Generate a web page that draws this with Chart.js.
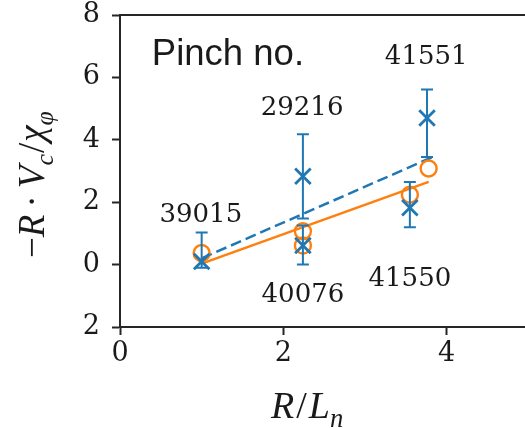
<!DOCTYPE html>
<html>
<head>
<meta charset="utf-8">
<script src="https://cdn.jsdelivr.net/npm/chart.js@4/dist/chart.umd.min.js"></script>
<style>
  html, body { margin: 0; padding: 0; background: #fff; overflow: hidden; }
  canvas { display: block; }
</style>
</head>
<body>
<canvas id="c" width="525" height="428"></canvas>
<script>
// Pinch shots
const shotLabels = ['39015', '40076', '29216', '41550', '41551'];

// Measured values (crosses with error bars)
const measX    = [1.00, 2.24, 2.24, 3.55, 3.76];
const measY    = [0.10, 0.61, 2.83, 1.82, 4.70];
const measLow  = [-0.10, 0.00, 1.48, 1.20, 3.45];
const measHigh = [1.03, 1.25, 4.18, 2.65, 5.61];

// Model values (open circles)
const modelX = [1.00, 2.24, 2.24, 3.55, 3.78];
const modelY = [0.37, 0.61, 1.07, 2.24, 3.08];

// Linear fits (end points)
const measFitX  = [1.00, 3.83];
const measFitY  = [0.20, 3.45];
const modelFitX = [1.00, 3.78];
const modelFitY = [0.03, 2.65];

// Axis ticks
const yTickValues = [-2, 0, 2, 4, 6, 8];
const yTickText   = ['2', '0', '2', '4', '6', '8'];

const BLUE = '#1f77b4';
const ORANGE = '#ff7f0e';
const AXIS = '#262626';
const TEXT = '#1a1a1a';

const pts = (xs, ys) => xs.map((x, i) => ({ x, y: ys[i] }));

// Error bars for the measured series, drawn right before its markers
const errorBars = {
  id: 'errorBars',
  beforeDatasetDraw(chart, args) {
    if (args.index !== 0) return;
    const { ctx, scales: { x, y } } = chart;
    ctx.save();
    ctx.strokeStyle = BLUE;
    ctx.lineWidth = 2;
    const cap = 6;
    measX.forEach((xv, i) => {
      const px = x.getPixelForValue(xv);
      const pl = y.getPixelForValue(measLow[i]);
      const ph = y.getPixelForValue(measHigh[i]);
      ctx.beginPath();
      ctx.moveTo(px, pl); ctx.lineTo(px, ph);
      ctx.moveTo(px - cap, pl); ctx.lineTo(px + cap, pl);
      ctx.moveTo(px - cap, ph); ctx.lineTo(px + cap, ph);
      ctx.stroke();
    });
    ctx.restore();
  }
};

// Shot number labels, in data coordinates: [text, x, y]
const shotTextPos = [
  ['39015', 0.99, 1.35],
  ['40076', 2.24, -1.19],
  ['29216', 2.23, 4.81],
  ['41550', 3.55, -0.67],
  ['41551', 3.75, 6.44]
];

function drawPieces(ctx, pieces, size) {
  let cx = 0;
  pieces.forEach(p => {
    const s = p.sub ? size * 0.7 : size;
    ctx.font = (p.it ? 'italic ' : '') + s + 'px "Liberation Serif"';
    cx += p.pre || 0;
    ctx.fillText(p.t, cx, p.sub ? size * 0.24 : 0);
    cx += ctx.measureText(p.t).width + (p.post || 0);
  });
}

const annotations = {
  id: 'annotations',
  afterDraw(chart) {
    const { ctx, scales: { x, y } } = chart;
    ctx.save();
    ctx.fillStyle = TEXT;
    ctx.textBaseline = 'alphabetic';

    ctx.textAlign = 'center';
    ctx.font = '26px "DejaVu Serif"';
    shotTextPos.forEach(([t, xv, yv]) => {
      ctx.fillText(t, x.getPixelForValue(xv), y.getPixelForValue(yv));
    });

    ctx.textAlign = 'left';
    ctx.font = '36.5px "Liberation Sans"';
    ctx.fillText('Pinch no.', x.getPixelForValue(0.39), y.getPixelForValue(6.41));

    // x axis title
    ctx.save();
    ctx.translate(271, 418);
    drawPieces(ctx, [
      { t: 'R', it: true, post: 2 }, { t: '/', post: 2 }, { t: 'L', it: true }, { t: 'n', it: true, sub: true }
    ], 38);
    ctx.restore();

    // y axis title
    ctx.save();
    ctx.translate(44, 258);
    ctx.rotate(-Math.PI / 2);
    drawPieces(ctx, [
      { t: '\u2212' }, { t: 'R', it: true }, { t: '\u00B7', pre: 7, post: 7 }, { t: 'V', it: true },
      { t: 'c', it: true, sub: true }, { t: '/', pre: 1, post: 1 }, { t: '\u03C7', it: true },
      { t: '\u03C6', it: true, sub: true }
    ], 37);
    ctx.restore();

    ctx.restore();
  }
};

// Keep the plot area fixed: no extra padding for edge tick labels
const noPad = (s) => { s.paddingLeft = s.paddingRight = s.paddingTop = s.paddingBottom = 0; };

new Chart(document.getElementById('c'), {
  type: 'scatter',
  data: {
    datasets: [
      {
        label: 'measured',
        data: pts(measX, measY),
        pointStyle: 'crossRot',
        pointRadius: 11,
        pointBorderWidth: 2.8,
        borderColor: BLUE,
        backgroundColor: BLUE,
        order: 0
      },
      {
        label: 'model',
        data: pts(modelX, modelY),
        pointStyle: 'circle',
        pointRadius: 8,
        pointBorderWidth: 2.4,
        borderColor: ORANGE,
        backgroundColor: 'rgba(0,0,0,0)',
        order: 1
      },
      {
        label: 'measured fit',
        data: pts(measFitX, measFitY),
        showLine: true,
        pointRadius: 0,
        borderColor: BLUE,
        borderWidth: 2.5,
        borderDash: [11, 5],
        order: 2
      },
      {
        label: 'model fit',
        data: pts(modelFitX, modelFitY),
        showLine: true,
        pointRadius: 0,
        borderColor: ORANGE,
        borderWidth: 2.5,
        order: 3
      }
    ]
  },
  options: {
    responsive: false,
    animation: false,
    events: [],
    layout: { padding: 0, autoPadding: false },
    plugins: { legend: { display: false }, tooltip: { enabled: false } },
    scales: {
      x: {
        type: 'linear',
        position: 'bottom',
        min: 0,
        max: 4.96,
        ticks: {
          stepSize: 2,
          includeBounds: false,
          color: TEXT,
          font: { family: 'DejaVu Serif', size: 27 },
          padding: 3,
          maxRotation: 0
        },
        grid: { drawOnChartArea: false, tickLength: 8, tickWidth: 2, color: AXIS },
        border: { color: AXIS, width: 2 },
        afterFit(s) { s.height = 101; noPad(s); }
      },
      xTop: {
        type: 'linear',
        position: 'top',
        min: 0,
        max: 4.96,
        ticks: { display: false, includeBounds: false },
        grid: { display: false },
        border: { display: true, color: AXIS, width: 2 },
        afterFit(s) { s.height = 15; noPad(s); }
      },
      y: {
        type: 'linear',
        min: -2,
        max: 8,
        afterBuildTicks(s) { s.ticks = yTickValues.map(v => ({ value: v })); },
        ticks: {
          color: TEXT,
          font: { family: 'DejaVu Serif', size: 27 },
          padding: 12,
          callback: (v) => yTickText[yTickValues.indexOf(v)]
        },
        grid: { drawOnChartArea: false, tickLength: 8, tickWidth: 2, color: AXIS },
        border: { color: AXIS, width: 2 },
        afterFit(s) { s.width = 120; noPad(s); }
      }
    }
  },
  plugins: [errorBars, annotations]
});
</script>
</body>
</html>
